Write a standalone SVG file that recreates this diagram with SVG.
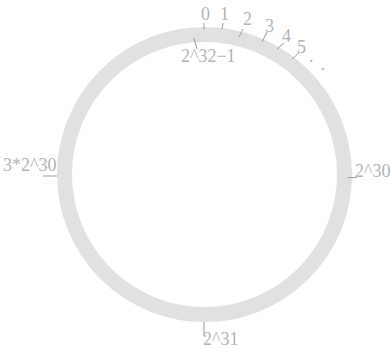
<svg xmlns="http://www.w3.org/2000/svg" width="391" height="350" viewBox="0 0 391 350">
<style>
.lbl{font-family:"Liberation Serif","Times New Roman",serif;font-size:18px;fill:#b3b3b3}
.tick{stroke:#9a9a9a;stroke-width:1;fill:none}
</style>
<rect width="391" height="350" fill="#ffffff"/>
<g id="ring">
<circle cx="204.5" cy="174.5" r="140" fill="none" stroke="#e0e0e0" stroke-width="15"/>
</g>
<g id="ticks">
<line class="tick" x1="204" y1="23" x2="204" y2="29"/>
<line class="tick" x1="223" y1="23" x2="222" y2="29"/>
<line class="tick" x1="243" y1="29" x2="239" y2="37"/>
<line class="tick" x1="267" y1="32" x2="262" y2="42"/>
<line class="tick" x1="284" y1="43" x2="277" y2="49"/>
<line class="tick" x1="299" y1="53" x2="292" y2="59"/>
<line class="tick" x1="194" y1="38" x2="197" y2="49"/>
<line class="tick" x1="348" y1="177.5" x2="357" y2="177.5"/>
<line class="tick" x1="43" y1="176" x2="57" y2="176"/>
<polyline class="tick" points="204,322 204,336 206,336"/>
</g>
<g id="labels">
<text class="lbl" x="201" y="20">0</text>
<text class="lbl" x="220" y="20">1</text>
<text class="lbl" x="243" y="25">2</text>
<text class="lbl" x="265" y="31.5">3</text>
<text class="lbl" x="282" y="41.5">4</text>
<text class="lbl" x="297" y="53">5</text>
<text class="lbl" x="309" y="61.5">.</text>
<text class="lbl" x="320.5" y="70">.</text>
<text class="lbl" x="181" y="62">2^32−1</text>
<text class="lbl" x="355" y="177">2^30</text>
<text class="lbl" x="3" y="171">3*2^30</text>
<text class="lbl" x="203" y="345">2^31</text>
</g>
</svg>
